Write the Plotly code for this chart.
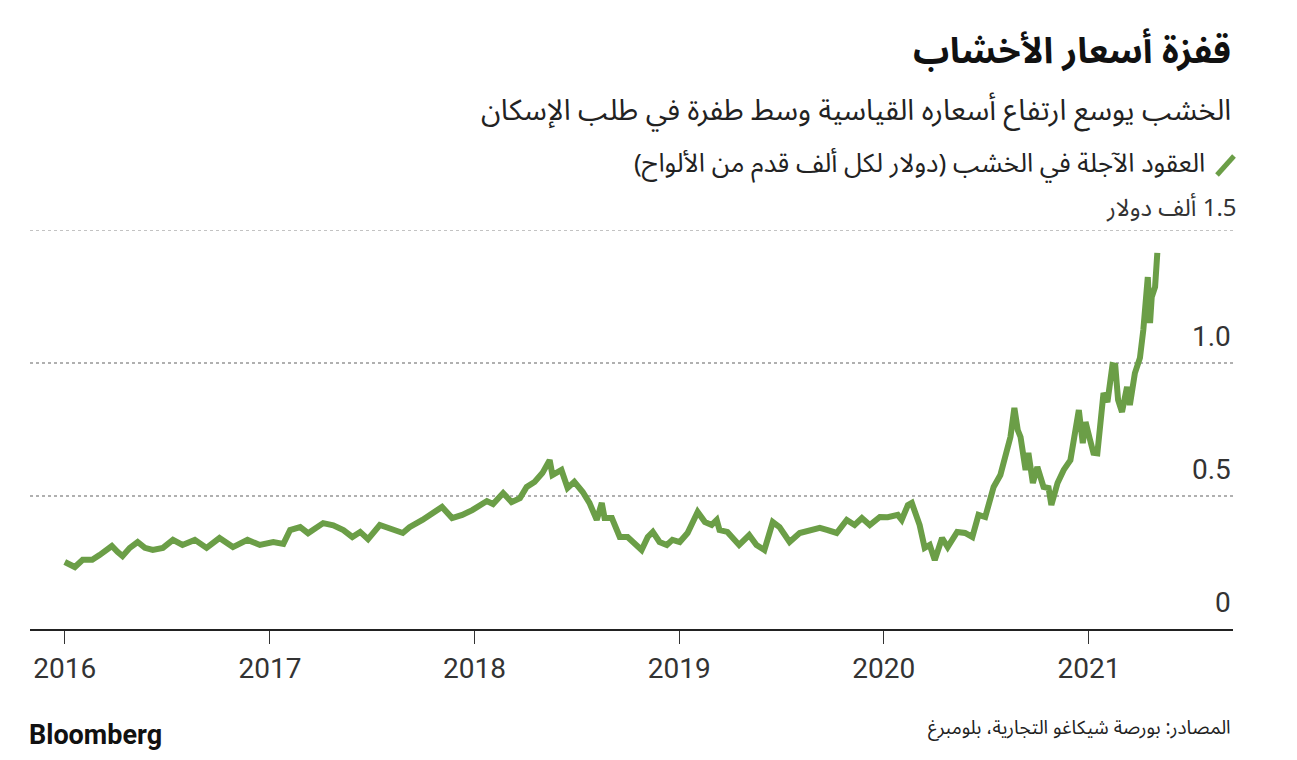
import plotly.graph_objects as go

dates = [
    "2016-01-01", "2016-01-19", "2016-02-02", "2016-02-19", "2016-03-03", "2016-03-25", "2016-04-04",
    "2016-04-13", "2016-04-26", "2016-05-10", "2016-05-23", "2016-06-06", "2016-06-24", "2016-07-12",
    "2016-07-29", "2016-08-20", "2016-09-10", "2016-10-03", "2016-10-27", "2016-11-22", "2016-12-14",
    "2017-01-07", "2017-01-25", "2017-02-06", "2017-02-24", "2017-03-10", "2017-04-06", "2017-04-24",
    "2017-05-12", "2017-05-28", "2017-06-11", "2017-06-25", "2017-07-16", "2017-08-08", "2017-08-26",
    "2017-09-07", "2017-09-30", "2017-11-04", "2017-11-22", "2017-12-10", "2017-12-28",
    "2018-01-23", "2018-02-03", "2018-02-21", "2018-03-08", "2018-03-23", "2018-04-04", "2018-04-18",
    "2018-05-02", "2018-05-15", "2018-05-20", "2018-06-05", "2018-06-16", "2018-06-28", "2018-07-13",
    "2018-07-25", "2018-08-07", "2018-08-16", "2018-08-21", "2018-09-03", "2018-09-17", "2018-10-01",
    "2018-10-14", "2018-10-26", "2018-11-06", "2018-11-15", "2018-11-27", "2018-12-10", "2018-12-20",
    "2019-01-02", "2019-01-16", "2019-02-03", "2019-02-16", "2019-02-28", "2019-03-09", "2019-03-14",
    "2019-03-28", "2019-04-18", "2019-05-06", "2019-05-19", "2019-06-02", "2019-06-17", "2019-06-29",
    "2019-07-17", "2019-08-04", "2019-08-22", "2019-09-09", "2019-09-23", "2019-10-09", "2019-10-27",
    "2019-11-10", "2019-11-23", "2019-12-07", "2019-12-25",
    "2020-01-08", "2020-01-26", "2020-02-02", "2020-02-13", "2020-02-20", "2020-03-05", "2020-03-14",
    "2020-03-23", "2020-04-01", "2020-04-14", "2020-04-24", "2020-05-11", "2020-05-25", "2020-06-07",
    "2020-06-18", "2020-06-30", "2020-07-15", "2020-07-27", "2020-08-09", "2020-08-14", "2020-08-21",
    "2020-08-27", "2020-09-01", "2020-09-10", "2020-09-15", "2020-09-23", "2020-10-01", "2020-10-12",
    "2020-10-21", "2020-10-26", "2020-11-06", "2020-11-17", "2020-11-29", "2020-12-08", "2020-12-14",
    "2020-12-21", "2020-12-26",
    "2021-01-03", "2021-01-09", "2021-01-16", "2021-01-21", "2021-01-27", "2021-02-03", "2021-02-12",
    "2021-02-17", "2021-02-22", "2021-03-01", "2021-03-10", "2021-03-15", "2021-03-24", "2021-04-02",
    "2021-04-08", "2021-04-16", "2021-04-20", "2021-04-23", "2021-04-29", "2021-05-03",
]

prices = [
    0.252, 0.233, 0.260, 0.260, 0.278, 0.312, 0.290,
    0.274, 0.305, 0.327, 0.305, 0.297, 0.305, 0.335,
    0.316, 0.335, 0.305, 0.342, 0.308, 0.335, 0.316,
    0.327, 0.320, 0.372, 0.383, 0.360, 0.398, 0.390,
    0.372, 0.346, 0.365, 0.338, 0.391, 0.372, 0.361,
    0.383, 0.410, 0.459, 0.417, 0.429, 0.447,
    0.481, 0.470, 0.511, 0.477, 0.492, 0.534, 0.553,
    0.586, 0.635, 0.579, 0.598, 0.530, 0.553, 0.515,
    0.474, 0.410, 0.474, 0.417, 0.417, 0.346, 0.346,
    0.323, 0.297, 0.346, 0.365, 0.327, 0.316, 0.335,
    0.327, 0.361, 0.440, 0.402, 0.391, 0.410, 0.372,
    0.365, 0.316, 0.353, 0.316, 0.297, 0.402, 0.383,
    0.327, 0.361, 0.372, 0.380, 0.372, 0.361, 0.410,
    0.391, 0.417, 0.391, 0.421,
    0.420, 0.429, 0.410, 0.466, 0.474, 0.391, 0.305,
    0.316, 0.259, 0.342, 0.308, 0.365, 0.361, 0.346,
    0.429, 0.421, 0.534, 0.579, 0.673, 0.722, 0.831,
    0.748, 0.722, 0.598, 0.662, 0.549, 0.609, 0.534,
    0.530, 0.466, 0.549, 0.598, 0.635, 0.748, 0.823,
    0.699, 0.778,
    0.711, 0.662, 0.660, 0.774, 0.887, 0.853, 0.992,
    0.990, 0.861, 0.816, 0.910, 0.842, 0.962, 1.019,
    1.124, 1.323, 1.150, 1.248, 1.286, 1.414,
]

year_ticks = ["2016-01-01", "2017-01-01", "2018-01-01", "2019-01-01", "2020-01-01", "2021-01-01"]
year_labels = ["2016", "2017", "2018", "2019", "2020", "2021"]
y_ticks = [0, 0.5, 1.0]
y_labels = ["0", "0.5", "1.0"]
y_top = 1.5
y_top_label = "\u200f1.5 ألف دولار"

title = "قفزة أسعار الأخشاب"
subtitle = "الخشب يوسع ارتفاع أسعاره القياسية وسط طفرة في طلب الإسكان"
legend_text = "العقود الآجلة في الخشب (دولار لكل ألف قدم من الألواح)"
source_text = "المصادر: بورصة شيكاغو التجارية، بلومبرغ"

GREEN = "#6b9e47"
AR_FONT = "Noto Sans Arabic, DejaVu Sans, sans-serif"
NUM_FONT = "Roboto, Noto Sans, sans-serif"

# the page body adds an 8px offset, so the figure is 8px smaller each way
W, H = 1289, 752
ML, MR, MT, MB = 22, 64, 222, 131
PLOT_H = H - MT - MB


def py(ref_y):
    # paper y for a pixel row of the reference image
    return (H - MB - (ref_y - 8)) / PLOT_H


def px(ref_x):
    return ((ref_x - 8) - ML) / (W - ML - MR)


fig = go.Figure()
fig.add_trace(go.Scatter(
    x=dates, y=prices, mode="lines",
    line=dict(color=GREEN, width=6),
    hoverinfo="skip", showlegend=False,
))

fig.update_layout(
    width=W, height=H,
    margin=dict(l=ML, r=MR, t=MT, b=MB),
    paper_bgcolor="white", plot_bgcolor="white",
    showlegend=False,
    xaxis=dict(
        type="date",
        range=["2015-10-31", "2021-09-15"],
        tickvals=year_ticks, ticktext=year_labels,
        ticks="outside", ticklen=13, tickwidth=1, tickcolor="#333",
        showline=True, linecolor="#222", linewidth=2,
        showgrid=False, zeroline=False,
        tickfont=dict(family=NUM_FONT, size=28, color="#333"),
        fixedrange=True,
    ),
    yaxis=dict(
        range=[0, y_top],
        tickvals=y_ticks[1:],
        showticklabels=False,
        showgrid=True, gridcolor="#b0b0b0", gridwidth=1.5, griddash="dot",
        zeroline=False, showline=False,
        fixedrange=True,
    ),
)

# top gridline at the edge of the range
fig.add_shape(
    type="line", xref="paper", yref="y", x0=0, x1=1, y0=y_top, y1=y_top,
    line=dict(color="#b0b0b0", width=1.5, dash="dot"), layer="below",
)

for v, lab in zip(y_ticks, y_labels):
    fig.add_annotation(
        x=1, xref="paper", y=v, yref="y", text=lab, showarrow=False,
        xanchor="right", yanchor="bottom", yshift=8,
        font=dict(family=NUM_FONT, size=28, color="#333"),
    )

fig.add_annotation(
    x=1.005, xref="paper", y=y_top, yref="y", text=y_top_label, showarrow=False,
    xanchor="right", yanchor="bottom", yshift=-6,
    font=dict(family=AR_FONT, size=24, color="#333"),
)

fig.add_annotation(
    x=1, xref="paper", y=py(52), yref="paper", yanchor="middle", text="<b>" + title + "</b>",
    showarrow=False, xanchor="right",
    font=dict(family=AR_FONT, size=36, color="#111"),
)
fig.add_annotation(
    x=1, xref="paper", y=py(111), yref="paper", yanchor="middle", text=subtitle,
    showarrow=False, xanchor="right",
    font=dict(family=AR_FONT, size=29, color="#222"),
)
fig.add_annotation(
    x=px(1207), xref="paper", y=py(163), yref="paper", yanchor="middle", text=legend_text,
    showarrow=False, xanchor="right",
    font=dict(family=AR_FONT, size=26, color="#222"),
)
fig.add_shape(
    type="line", xref="paper", yref="paper",
    x0=px(1217), x1=px(1234), y0=py(175), y1=py(156),
    line=dict(color=GREEN, width=5),
)
fig.add_annotation(
    x=1, xref="paper", y=py(728), yref="paper", yanchor="middle", text=source_text,
    showarrow=False, xanchor="right",
    font=dict(family=AR_FONT, size=19, color="#222"),
)
fig.add_annotation(
    x=px(27), xref="paper", y=py(735), yref="paper", yanchor="middle", text="<b>Bloomberg</b>",
    showarrow=False, xanchor="left",
    font=dict(family="Roboto, Arial, sans-serif", size=27, color="#111", weight=900),
)

fig.write_html("out.html")
